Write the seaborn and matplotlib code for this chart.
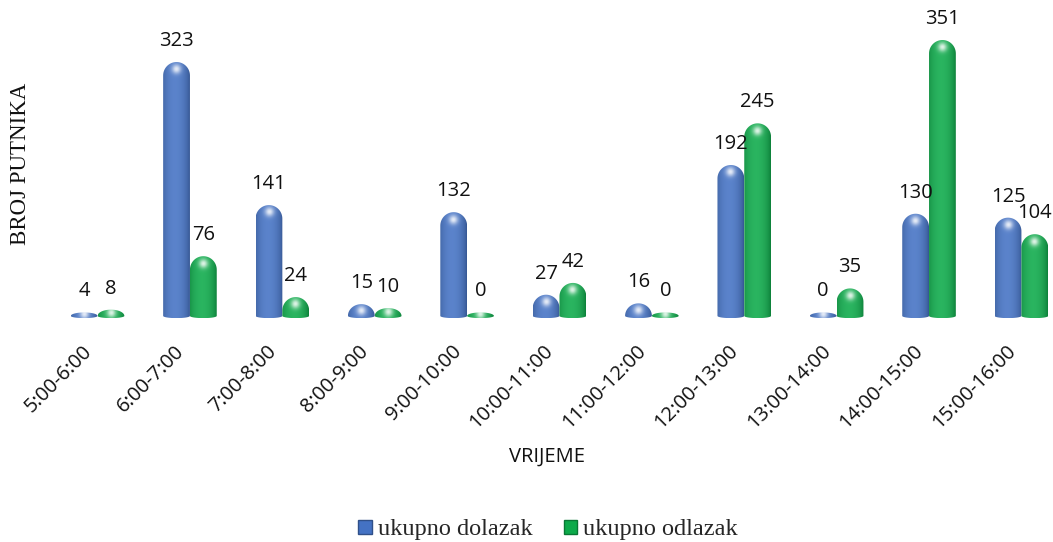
import numpy as np
import pandas as pd
import matplotlib
matplotlib.use("Agg")
import matplotlib.pyplot as plt
import matplotlib.transforms as mtransforms
from matplotlib.path import Path
from matplotlib.patches import PathPatch, Patch
from matplotlib.colors import to_rgb
import seaborn as sns

# Passenger counts per hourly interval
categories = ["5:00-6:00", "6:00-7:00", "7:00-8:00", "8:00-9:00", "9:00-10:00",
              "10:00-11:00", "11:00-12:00", "12:00-13:00", "13:00-14:00",
              "14:00-15:00", "15:00-16:00"]
dolazak = [4, 323, 141, 15, 132, 27, 16, 192, 0, 130, 125]
odlazak = [8, 76, 24, 10, 0, 42, 0, 245, 35, 351, 104]
series_names = ["ukupno dolazak", "ukupno odlazak"]

BLUE = "#4472C4"
GREEN = "#0DAA4A"

df = pd.DataFrame({
    "vrijeme": categories * 2,
    "broj": dolazak + odlazak,
    "serija": [series_names[0]] * len(categories) + [series_names[1]] * len(categories),
})

sns.set_theme(style="white")
plt.rcParams["font.family"] = ["Open Sans", "DejaVu Sans"]

W, H = 10.53, 5.42
fig = plt.figure(figsize=(W, H), dpi=100)
ax_l, ax_b, ax_w, ax_h = 0.0522, 0.4113, 0.945, 0.5526
ax = fig.add_axes([ax_l, ax_b, ax_w, ax_h])

sns.barplot(data=df, x="vrijeme", y="broj", hue="serija", order=categories,
            hue_order=series_names, palette=[BLUE, GREEN], width=0.58,
            legend=False, ax=ax, saturation=1)

XLIM = (-0.461, 10.31)
YLIM = (-4, 377)
ax.set_xlim(*XLIM)
ax.set_ylim(*YLIM)

# pixel scale of data units, for round caps and highlights
px_x = ax_w * W * 100 / (XLIM[1] - XLIM[0])
px_y = ax_h * H * 100 / (YLIM[1] - YLIM[0])


def mix(c1, c2, t):
    c1, c2 = np.array(to_rgb(c1)), np.array(to_rgb(c2))
    return c1 + (c2 - c1) * t


def capsule_path(x0, x1, h):
    """Bar outline with an elliptical bottom and a dome-shaped top."""
    w = x1 - x0
    cx = (x0 + x1) / 2
    ry_top = min(13.5 / px_y, max(h, 3.5 / px_y))
    ry_bot = 2.2 / px_y
    y_top_base = max(h - ry_top, 0)
    pts = []
    # bottom half ellipse, left to right
    for a in np.linspace(np.pi, 2 * np.pi, 30):
        pts.append((cx + w / 2 * np.cos(a), ry_bot * np.sin(a)))
    # right side up
    pts.append((x1, y_top_base))
    # top dome right to left
    for a in np.linspace(0, np.pi, 40):
        pts.append((cx + w / 2 * np.cos(a), y_top_base + ry_top * np.sin(a)))
    pts.append((x0, 0))
    pts.append(pts[0])
    codes = [Path.MOVETO] + [Path.LINETO] * (len(pts) - 2) + [Path.CLOSEPOLY]
    return Path(pts, codes), y_top_base, ry_top, ry_bot


bars = list(ax.patches)
for p in bars:
    x0 = p.get_x()
    w = p.get_width()
    h = p.get_height()
    x1 = x0 + w
    base = p.get_facecolor()[:3]
    p.set_visible(False)

    path, ytb, ry_top, ry_bot = capsule_path(x0, x1, h)
    shape = PathPatch(path, facecolor="none", edgecolor="none")
    ax.add_patch(shape)

    ybot = -ry_bot
    ytop = ytb + ry_top
    nx, ny = 60, 240
    xs = np.linspace(x0, x1, nx)
    ys = np.linspace(ytop, ybot, ny)
    X, Y = np.meshgrid(xs, ys)
    t = (X - x0) / w
    # cylinder shading: darker at the edges, brighter left of centre
    shade = np.cos((t - 0.45) * np.pi * 0.9)
    shade = np.clip(shade, 0, 1)
    dark = mix(base, "black", 0.28)
    light = mix(base, "white", 0.12)
    img = dark[None, None, :] + (light - dark)[None, None, :] * shade[..., None] ** 0.6
    # specular spot near the top of the dome
    cxh = x0 + 0.5 * w
    cyh = ytb + ry_top * 0.45
    d2 = ((X - cxh) * px_x) ** 2 + ((Y - cyh) * px_y) ** 2
    spot = np.exp(-d2 / (2 * 3.2 ** 2)) * 0.85
    img = img + (1 - img) * spot[..., None]
    img = np.clip(img, 0, 1)
    im = ax.imshow(img, extent=(x0, x1, ybot, ytop), aspect="auto",
                   interpolation="bilinear", zorder=3)
    im.set_clip_path(shape)

    ax.annotate(f"{int(round(h))}", xy=(x0 + w / 2, ytop), xytext=(0, 8),
                textcoords="offset points", ha="center", va="bottom",
                fontsize=14.5, color="#111111", zorder=5)

ax.set_xlim(*XLIM)
ax.set_ylim(*YLIM)
ax.set_xticks(range(len(categories)))
ax.set_xticklabels(categories, rotation=45, ha="right", rotation_mode="anchor",
                   fontsize=14.5, color="#111111")
ax.tick_params(axis="x", length=0, pad=16)
shift = mtransforms.ScaledTranslation(-16 / 100, 0, fig.dpi_scale_trans)
for lbl in ax.get_xticklabels():
    lbl.set_transform(lbl.get_transform() + shift)
ax.set_yticks([])
ax.set_xlabel("")
ax.set_ylabel("")
for s in ax.spines.values():
    s.set_visible(False)

fig.text(0.019, 1 - 164 / 542, "BROJ PUTNIKA", rotation=90, ha="center",
         va="center", fontsize=16.5, family=["Liberation Serif", "DejaVu Serif"],
         color="#111111")
fig.text(547 / 1053, 1 - 457 / 542, "VRIJEME", ha="center", va="center",
         fontsize=14.5, color="#111111")

handles = [Patch(facecolor=BLUE, edgecolor=mix(BLUE, "black", 0.3)),
           Patch(facecolor=GREEN, edgecolor=mix(GREEN, "black", 0.3))]
fig.legend(handles, series_names, loc="center", bbox_to_anchor=(548 / 1053, 1 - 530 / 542),
           ncol=2, frameon=False, handlelength=0.55, handleheight=0.55,
           handletextpad=0.25, columnspacing=1.3,
           prop={"family": ["Liberation Serif", "DejaVu Serif"], "size": 17.5})

fig.savefig("out.png", dpi=100)
